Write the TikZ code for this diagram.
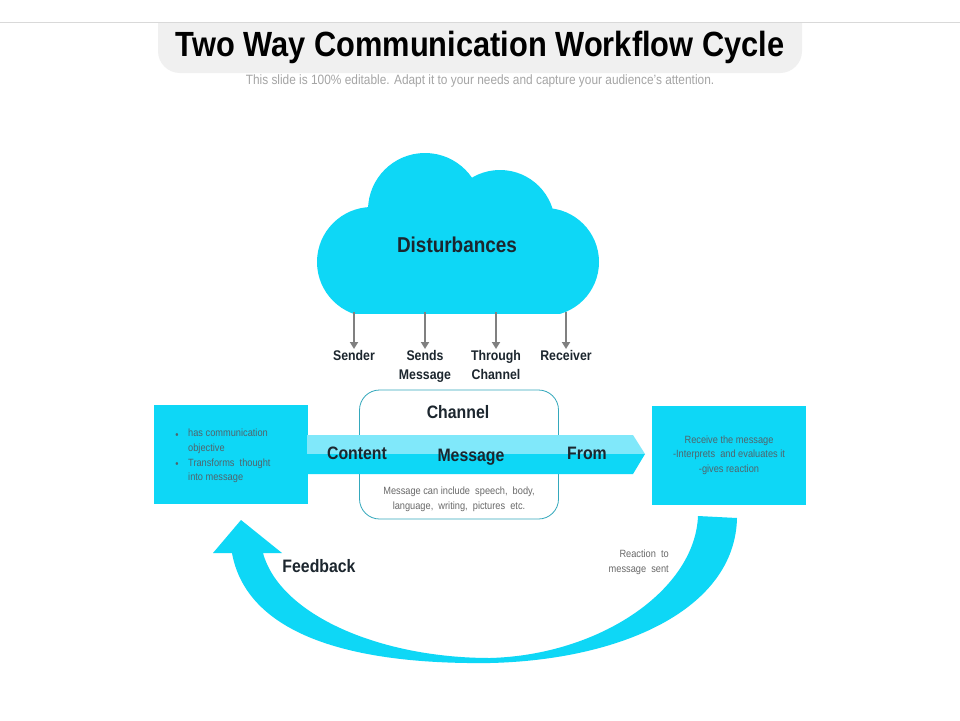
\documentclass[tikz,border=0pt]{standalone}
\usepackage{fontspec}
\setmainfont{Liberation Sans}[FakeStretch=0.88]
\usetikzlibrary{arrows.meta, positioning}
\definecolor{skyfill}{RGB}{14,215,246}
\definecolor{skylight}{RGB}{128,232,250}
\definecolor{chanline}{RGB}{52,168,188}
\definecolor{darktext}{RGB}{28,38,46}
\definecolor{boxtext}{RGB}{80,100,108}
\definecolor{greytext}{RGB}{105,105,105}
\definecolor{subgrey}{RGB}{165,165,165}
\definecolor{arrowgrey}{RGB}{128,128,128}
\definecolor{bannergrey}{RGB}{240,240,240}
\tikzset{
  x=1pt, y=-1pt, % one unit is one pixel of the slide
  inner sep=1pt,
  info_box/.style={fill=skyfill, minimum width=154pt, minimum height=99pt}, % the two side boxes
  chan_box/.style={draw=chanline, line width=0.8pt, rounded corners=20pt,
    minimum width=199pt, minimum height=129pt},
  dist_arrow/.style={draw=arrowgrey, line width=2.6pt,
    -{Triangle[length=7pt,width=8pt]}}, % arrows under the cloud
  lbl/.style={font=\bfseries\fontsize{14}{19.5}\selectfont, text=darktext,
    align=center, anchor=north},
  big_lbl/.style={font=\bfseries\fontsize{18}{22}\selectfont, text=darktext, anchor=base},
  small_txt/.style={font=\fontsize{10.5}{14.7}\selectfont, text=boxtext},
}

\begin{document}
\begin{tikzpicture}
  \fill[white] (0,0) rectangle (960,720);
  \useasboundingbox (0,0) rectangle (960,720);

  % title banner
  \begin{scope}
    \clip (0,22) rectangle (960,100);
    \fill[bannergrey, rounded corners=22pt] (158,0) rectangle (802,73);
  \end{scope}
  \draw[black!15, line width=0.8pt] (0,22) -- (960,22);
  \node[anchor=base, font=\bfseries\fontsize{35}{40}\selectfont] (title) at (480,56)
    {Two Way Communication Workflow Cycle};
  \node[anchor=base, text=subgrey, font=\fontsize{13.5}{16}\selectfont] (subtitle) at (480,84)
    {This slide is 100\% editable. Adapt it to your needs and capture your audience's attention.};

  % cloud
  \begin{scope}
    \clip (300,140) rectangle (620,313);
    \fill[skyfill] (372,262) circle (55);
    \fill[skyfill] (425,210) circle (57);
    \fill[skyfill] (500,225) circle (55);
    \fill[skyfill] (545,262) circle (54);
    \fill[skyfill] (372,230) rectangle (545,320);
  \end{scope}
  \node[anchor=base, font=\bfseries\fontsize{21.5}{26}\selectfont, text=darktext]
    (disturb) at (457,252) {Disturbances};

  \coordinate (c_sender) at (354,312);
  \coordinate (c_sends) at (425,312);
  \coordinate (c_through) at (496,312);
  \coordinate (c_receiver) at (566,312);
  \node[lbl] (sender) at (354,349) {Sender};
  \node[lbl] (sends_msg) at (425,349) {Sends\\Message};
  \node[lbl] (through_ch) at (496,349) {Through\\Channel};
  \node[lbl] (receiver) at (566,349) {Receiver};
  \draw[dist_arrow] (c_sender) -- (sender);
  \draw[dist_arrow] (c_sends) -- (sends_msg);
  \draw[dist_arrow] (c_through) -- (through_ch);
  \draw[dist_arrow] (c_receiver) -- (receiver);

  % boxes and the channel
  \node[info_box] (sender_box) at (231,454) {};
  \node[chan_box] (channel) at (459,454.5) {};
  \node[info_box, small_txt, align=center] (receiver_box) at (729,455)
    {Receive the message\\-Interprets\ \ and evaluates it\\-gives reaction};

  % message arrow
  \fill[skylight] (307,435) -- (633,435) -- (645,454) -- (307,454) -- cycle;
  \fill[skyfill] (307,454) -- (645,454) -- (633,474) -- (307,474) -- cycle;

  \node[small_txt] (dot_a) at (177,436) {\textbullet};
  \node[small_txt] (dot_b) at (177,465) {\textbullet};
  \node[small_txt, align=left, anchor=north west] (objective) at (187,428)
    {has communication\\objective\\Transforms\ \ thought\\into message};

  \node[big_lbl] (chan_lbl) at (458,418) {Channel};
  \node[big_lbl] (content) at (357,459.5) {Content};
  \node[big_lbl] (message) at (471,461) {Message};
  \node[big_lbl] (from) at (587,459.5) {From};
  \node[small_txt, text=greytext, align=center, anchor=north] (chan_note) at (459,486)
    {Message can include\ \ speech,\ \ body,\\language,\ \ writing,\ \ pictures\ \ etc.};

  % feedback arrow
  \fill[skyfill] (737,518) .. controls (735,610) and (620,660) .. (490,663)
    .. controls (330,665) and (245,625) .. (232,553)
    -- (213,553) -- (241,520) -- (282,553) -- (263,553)
    .. controls (280,615) and (380,658) .. (490,658)
    .. controls (600,655) and (695,590) .. (698,516) -- cycle;
  \node[big_lbl] (feedback) at (319,572) {Feedback};
  \node[small_txt, text=greytext, align=right, anchor=north east] (reaction) at (670,549)
    {Reaction\ \ to\\message\ \ sent};
\end{tikzpicture}
\end{document}
